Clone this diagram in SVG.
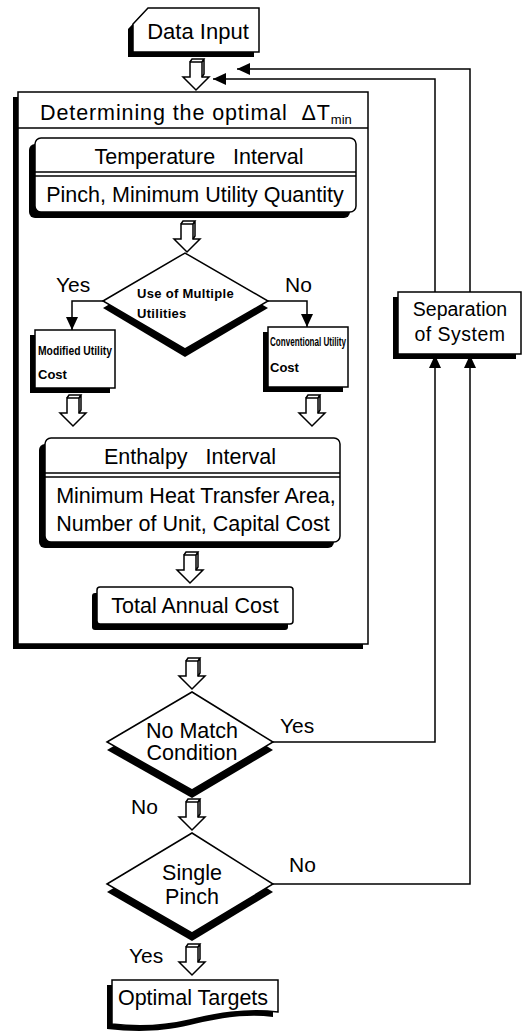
<svg xmlns="http://www.w3.org/2000/svg" width="525" height="1035" viewBox="0 0 525 1035">
<style>
  text { font-family: "Liberation Sans", Arial, sans-serif; fill: #000; }
  .t { font-size: 21.5px; }
  .c { text-anchor: middle; }
  .lbl { font-size: 21px; }
  .sm { font-size: 13px; font-weight: bold; }
  .box { fill: #fff; stroke: #000; stroke-width: 1.5; }
  .sh { fill: #000; stroke: none; }
  .ln { fill: none; stroke: #000; stroke-width: 1.5; }
  .ha { fill: #fff; stroke: #000; stroke-width: 1.5; stroke-linejoin: miter; }
</style>
<defs>
  <marker id="ah" markerUnits="userSpaceOnUse" markerWidth="14" markerHeight="12" refX="13" refY="6" orient="auto">
    <path d="M0,0 L13,6 L0,12 Z" fill="#000"/>
  </marker>
  <g id="harrow">
    <path class="ha" d="M-6,0 H6 V15 H13 L0,28 L-13,15 H-6 Z"/>
    <path class="ln" d="M-6,0 L-4,-3 H8 L6,0 M8,-3 V12 L6,15"/>
  </g>
</defs>

<!-- Data Input -->
<g id="data-input">
  <path class="sh" d="M143,13 H254 V57 H128 V29 Z"/>
  <path class="box" d="M148,8 H259 V52 H133 V24 Z"/>
  <text class="c" x="198" y="39" font-size="22">Data Input</text>
</g>

<!-- Big box -->
<g id="optimal-dtmin">
  <rect class="sh" x="13" y="97" width="350" height="552"/>
  <rect class="box" x="18" y="92" width="350" height="552"/>
  <line class="ln" x1="18" y1="128" x2="368" y2="128"/>
  <text class="t" x="40" y="120" letter-spacing="0.9" xml:space="preserve">Determining the optimal  ΔT<tspan font-size="13" dy="4" letter-spacing="0">min</tspan></text>
</g>

<!-- Temperature Interval -->
<g id="temperature-interval">
  <rect class="sh" x="29" y="144" width="321" height="74" rx="6"/>
  <rect class="box" x="35" y="138" width="321" height="74" rx="6"/>
  <line class="ln" x1="35" y1="172" x2="356" y2="172"/>
  <line class="ln" x1="35" y1="176" x2="356" y2="176"/>
  <text class="t c" x="199" y="164" xml:space="preserve">Temperature   Interval</text>
  <text class="t c" x="195" y="202">Pinch, Minimum Utility Quantity</text>
</g>

<!-- Decision: Use of Multiple Utilities -->
<g id="multiple-utilities">
  <path class="sh" d="M103,308 L185,260 L268,308 L185,357 Z"/>
  <path class="box" d="M103,301 L185,253 L268,301 L185,349 Z"/>
  <text class="sm" x="137" y="298" font-size="14.5" letter-spacing="0.3">Use of Multiple</text>
  <text class="sm" x="137" y="318" font-size="14.5" letter-spacing="0.3">Utilities</text>
</g>

<!-- Modified Utility Cost -->
<g id="modified-utility-cost">
  <rect class="sh" x="30" y="335" width="80" height="58"/>
  <rect class="box" x="35" y="330" width="80" height="58"/>
  <text class="sm" x="38" y="355" textLength="74" lengthAdjust="spacingAndGlyphs">Modified Utility</text>
  <text class="sm" x="38" y="379">Cost</text>
</g>

<!-- Conventional Utility Cost -->
<g id="conventional-utility-cost">
  <rect class="sh" x="263" y="332" width="80" height="60"/>
  <rect class="box" x="268" y="327" width="80" height="60"/>
  <text class="sm" x="270" y="346" textLength="76" lengthAdjust="spacingAndGlyphs">Conventional Utility</text>
  <text class="sm" x="270" y="372">Cost</text>
</g>

<!-- Enthalpy Interval -->
<g id="enthalpy-interval">
  <rect class="sh" x="39" y="444" width="295" height="104" rx="6"/>
  <rect class="box" x="45" y="438" width="295" height="104" rx="6"/>
  <line class="ln" x1="45" y1="473" x2="340" y2="473"/>
  <line class="ln" x1="45" y1="477" x2="340" y2="477"/>
  <text class="t c" x="190" y="464" xml:space="preserve">Enthalpy   Interval</text>
  <text class="t c" x="196" y="503">Minimum Heat Transfer Area,</text>
  <text class="t c" x="193" y="531">Number of Unit, Capital Cost</text>
</g>

<!-- Total Annual Cost -->
<g id="total-annual-cost">
  <rect class="sh" x="92" y="593" width="196" height="37" rx="3"/>
  <rect class="box" x="97" y="587" width="196" height="37" rx="3"/>
  <text class="t c" x="195" y="613">Total Annual Cost</text>
</g>

<!-- Decision: No Match Condition -->
<g id="no-match-condition">
  <path class="sh" d="M107,750 L192,700 L273,750 L192,798 Z"/>
  <path class="box" d="M107,742 L192,692 L273,742 L192,790 Z"/>
  <text class="t c" x="192" y="738">No Match</text>
  <text class="t c" x="192" y="760">Condition</text>
</g>

<!-- Decision: Single Pinch -->
<g id="single-pinch">
  <path class="sh" d="M107,892 L192,841 L273,892 L192,941 Z"/>
  <path class="box" d="M107,884 L192,833 L273,884 L192,933 Z"/>
  <text class="t c" x="192" y="880">Single</text>
  <text class="t c" x="192" y="904">Pinch</text>
</g>

<!-- Optimal Targets -->
<g id="optimal-targets">
  <path class="sh" d="M107,985 H273 V1017 C245,1013 215,1019 190,1025 C160,1032 135,1032 107,1029 Z"/>
  <path class="box" d="M112,980 H278 V1012 C245,1008 215,1014 190,1020 C160,1027 135,1027 112,1024 Z"/>
  <text class="t c" x="193" y="1005">Optimal Targets</text>
</g>

<!-- Separation of System -->
<g id="separation-of-system">
  <rect class="sh" x="393" y="297" width="123" height="62"/>
  <rect class="box" x="398" y="292" width="123" height="62"/>
  <text class="c" x="460" y="316" font-size="19.5">Separation</text>
  <text class="c" x="460" y="341" font-size="19.5" letter-spacing="0.5">of System</text>
</g>

<!-- Connectors -->
<g id="connectors">
  <use href="#harrow" transform="translate(196,62)"/>
  <use href="#harrow" transform="translate(187,224)"/>
  <use href="#harrow" transform="translate(73,398)"/>
  <use href="#harrow" transform="translate(312,398)"/>
  <use href="#harrow" transform="translate(190,555)"/>
  <use href="#harrow" transform="translate(192,661)"/>
  <use href="#harrow" transform="translate(192,802)"/>
  <use href="#harrow" transform="translate(192,947)"/>

  <path class="ln" d="M470,292 V69 H237" marker-end="url(#ah)"/>
  <path class="ln" d="M435,292 V79 H213" marker-end="url(#ah)"/>
  <path class="ln" d="M103,301 H72 V330" marker-end="url(#ah)"/>
  <path class="ln" d="M268,301 H307 V327" marker-end="url(#ah)"/>
  <path class="ln" d="M273,742 H435 V355" marker-end="url(#ah)"/>
  <path class="ln" d="M273,884 H470 V355" marker-end="url(#ah)"/>

  <text class="lbl" x="56" y="292">Yes</text>
  <text class="lbl" x="285" y="292">No</text>
  <text class="lbl" x="280" y="733">Yes</text>
  <text class="lbl" x="131" y="814">No</text>
  <text class="lbl" x="289" y="872">No</text>
  <text class="lbl" x="129" y="963">Yes</text>
</g>
</svg>
